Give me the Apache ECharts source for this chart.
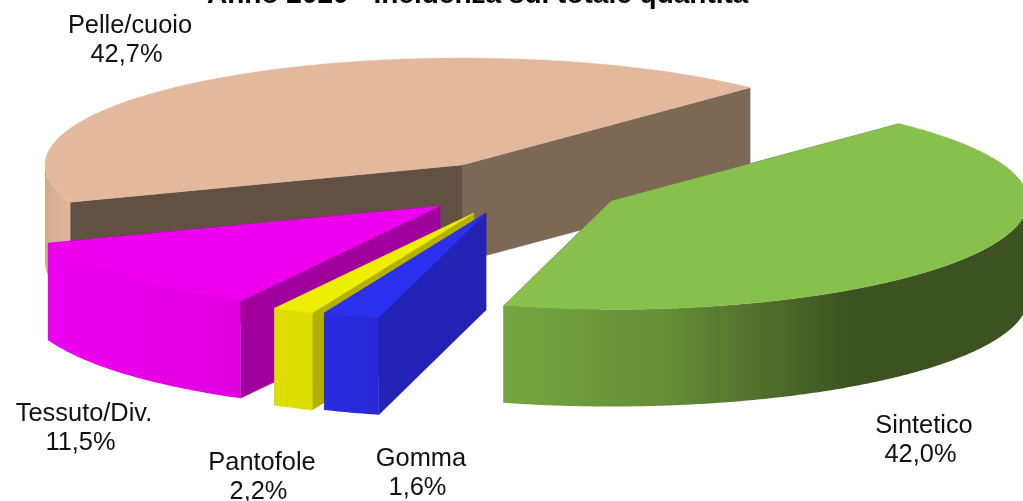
<!DOCTYPE html>
<html>
<head>
<meta charset="utf-8">
<style>html,body{margin:0;padding:0;background:#fff}#c{width:1023px;height:501px}</style>
<script src="https://cdn.jsdelivr.net/npm/echarts@6/dist/echarts.min.js"></script>
</head>
<body>
<div id="c"></div>
<script>
// Data, in pie order (counter-clockwise on screen from the upper right)
const categories = ['Pelle/cuoio', 'Tessuto/Div.', 'Pantofole', 'Gomma', 'Sintetico'];
// Percentages as printed in the labels
const printedPercent = [42.7, 11.5, 2.2, 1.6, 42.0];
const sliceShare = [42.7, 11.5, 1.6, 2.2, 42.0];
const titleText = 'Anno 2020 - Incidenza sul totale quantità';

// Layout and style
const startAngle = 46.3, rx = 417, ryBack = 107, ryFront = 108.5, depth = 97;
const apex = [[462,165],[440,206],[474,213],[486,213],[611,201]];
const labelPos = [[130,40.5],[84,428.5],[262,477.5],[421,473.5],[924,440.5]];
const topFill = ['#e3b99e','#ee00ee','#eeee00','#2b30ee','#88c04d'];
const wallFill = [
  {type:'linear',x:0,y:0,x2:1,y2:0,colorStops:[{offset:0,color:'#d0aa90'},{offset:1,color:'#e2b89b'}]},
  {type:'linear',x:0,y:0,x2:1,y2:0,colorStops:[{offset:0,color:'#ee00ee'},{offset:1,color:'#df00df'}]},
  '#dddd00',
  {type:'linear',x:0,y:0,x2:1,y2:0,colorStops:[{offset:0,color:'#2a2ce0'},{offset:1,color:'#2828d6'}]},
  {type:'linear',x:0,y:0,x2:1,y2:0,colorStops:[{offset:0,color:'#75a540'},{offset:0.3,color:'#668f38'},{offset:0.66,color:'#3c5321'},{offset:1,color:'#3c5321'}]}
];
const startCutFill = ['#7d6755','#a0009c','#b4b000','#2222b4','#3c5321'];
const endCutFill = ['#625042','#a0009c','#b4b000','#2222b4','#3c5321'];
const total = sliceShare.reduce((a, b) => a + b, 0);
const angles = [];
sliceShare.reduce((acc, v) => { const next = acc + v / total * 360; angles.push([acc, next]); return next; }, startAngle);

function pt(i, deg, dz) {
  const t = deg * Math.PI / 180, s = Math.sin(t);
  return [apex[i][0] + rx * Math.cos(t), apex[i][1] - (s > 0 ? ryBack : ryFront) * s + (dz || 0)];
}
function arc(i, a, b, dz) {
  const n = Math.max(2, Math.ceil((b - a) / 0.5)), out = [];
  for (let k = 0; k <= n; k++) out.push(pt(i, a + (b - a) * k / n, dz));
  return out;
}
function poly(points, fill) {
  return {type:'polygon', shape:{points}, style:{fill, stroke:typeof fill === 'string' ? fill : null, lineWidth:typeof fill === 'string' ? 0.4 : 0}};
}
function wallRange(a, b) {
  // portion of the arc on the front half of the ellipse
  const lo = Math.max(a, 180), hi = Math.min(b, 360);
  return hi > lo ? [lo, hi] : null;
}
function renderItem(params, api) {
  const i = params.dataIndex;
  const [a, b] = angles[i];
  const ap = apex[i], apB = [ap[0], ap[1] + depth];
  const children = [];
  const pa = pt(i, a), pb = pt(i, b);
  children.push(poly([ap, pa, [pa[0], pa[1] + depth], apB], startCutFill[i]));
  children.push(poly([ap, pb, [pb[0], pb[1] + depth], apB], endCutFill[i]));
  const r = wallRange(a, b);
  if (r) {
    const up = arc(i, r[0], r[1], 0), down = arc(i, r[0], r[1], depth).reverse();
    children.push(poly(up.concat(down), wallFill[i]));
  }
  children.push(poly([ap].concat(arc(i, a, b, 0)), topFill[i]));
  const pct = api.value(1).toFixed(1).replace('.', ',') + '% ';
  children.push({
    type:'text', z2:100,
    style:{
      text:categories[i] + '\n' + pct,
      x:labelPos[i][0], y:labelPos[i][1],
      align:'center', verticalAlign:'middle',
      fontFamily:'"Liberation Sans", Arial, sans-serif',
      fontSize:25.4, lineHeight:29, fill:'#111'
    }
  });
  return {type:'group', children};
}

const chart = echarts.init(document.getElementById('c'), null, {renderer:'canvas'});
chart.setOption({
  animation:false,
  backgroundColor:'#fff',
  title:{
    text:titleText, left:202, top:-24,
    textStyle:{fontFamily:'"Liberation Sans", Arial, sans-serif', fontSize:28, fontWeight:'bold', color:'#000'}
  },
  series:[{
    type:'custom',
    coordinateSystem:'none',
    clip:false,
    silent:true,
    renderItem,
    data:categories.map((c, i) => [i, printedPercent[i]])
  }]
});
</script>
</body>
</html>
